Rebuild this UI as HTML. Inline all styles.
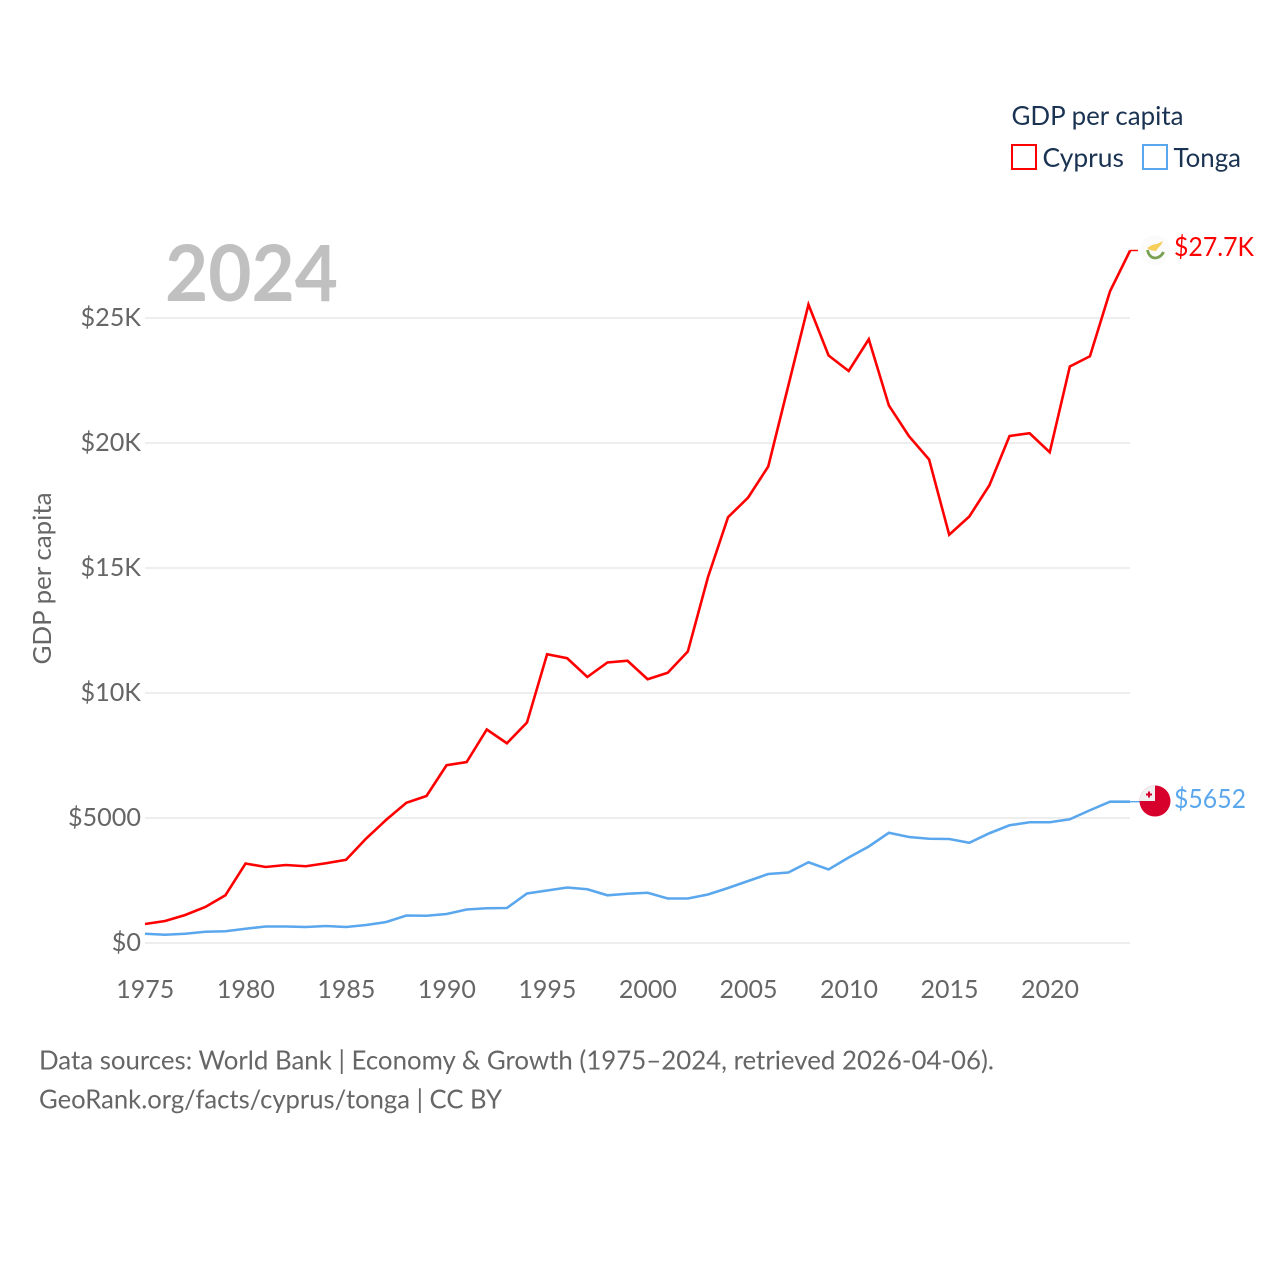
<!DOCTYPE html>
<html>
<head>
<meta charset="utf-8">
<title>GDP per capita: Cyprus and Tonga</title>
<style>
html,body{margin:0;padding:0;background:#fff;}
svg{display:block;font-family:"Lato","Carlito","Liberation Sans",sans-serif;}
</style>
</head>
<body>
<svg id="chart" xmlns="http://www.w3.org/2000/svg" width="1280" height="1280" viewBox="0 0 1280 1280">
  <rect x="0" y="0" width="1280" height="1280" fill="#fff"/>
  <g id="grid"></g>
  <g id="yticks"></g>
  <g id="xticks"></g>
  <text x="165" y="301" font-size="78" font-weight="700" fill="#c0c0c0" textLength="173" lengthAdjust="spacingAndGlyphs">2024</text>
  <text transform="translate(51,664.5) rotate(-90)" font-size="25.5" fill="#666" textLength="172" lengthAdjust="spacingAndGlyphs">GDP per capita</text>
  <g id="series"></g>

  <g>
    <text x="1011.5" y="125" font-size="26.5" fill="#1a3352" textLength="172" lengthAdjust="spacingAndGlyphs">GDP per capita</text>
    <g>
      <rect x="1012" y="145" width="24" height="24" fill="none" stroke="#ff0000" stroke-width="2"/>
      <text x="1042.5" y="167" font-size="26.5" fill="#1a3352" textLength="81.5" lengthAdjust="spacingAndGlyphs">Cyprus</text>
    </g>
    <g>
      <rect x="1143" y="145" width="24" height="24" fill="none" stroke="#5ba7ee" stroke-width="2"/>
      <text x="1173.5" y="167" font-size="26.5" fill="#1a3352" textLength="67.5" lengthAdjust="spacingAndGlyphs">Tonga</text>
    </g>
  </g>

  <g>
    <circle cx="1155" cy="250" r="15" fill="#fbfbfb"/>
    <path d="M1147 248 L1152 245 L1158 243.5 L1163 241 L1161 245 L1158 248 L1156 251 L1152 250.5 L1149 249.5 Z" fill="#f6cf5a"/>
    <path d="M1147.5 250 Q1149 257.5 1155 258 Q1161 257.5 1163.5 252" fill="none" stroke="#789f52" stroke-width="2.8"/>
  </g>
  <g>
    <clipPath id="tongaClip"><circle cx="1155" cy="801" r="15.5"/></clipPath>
    <circle cx="1155" cy="801" r="15.5" fill="#d7002c"/>
    <rect x="1139" y="785" width="16" height="16" fill="#f0f0f0" clip-path="url(#tongaClip)"/>
    <path d="M1148 791.5 h2 v2 h2 v2 h-2 v2 h-2 v-2 h-2 v-2 h2 z" fill="#d7002c"/>
  </g>

  <text x="1174" y="256" font-size="26.5" fill="#ff0000" textLength="80" lengthAdjust="spacingAndGlyphs">$27.7K</text>
  <text x="1174" y="808" font-size="26.5" fill="#5ba7ee" textLength="72" lengthAdjust="spacingAndGlyphs">$5652</text>

  <text x="39" y="1069.5" font-size="26" fill="#666" textLength="955" lengthAdjust="spacingAndGlyphs">Data sources: World Bank | Economy &amp; Growth (1975–2024, retrieved 2026-04-06).</text>
  <text x="39" y="1108.5" font-size="26" fill="#666" textLength="463" lengthAdjust="spacingAndGlyphs">GeoRank.org/facts/cyprus/tonga | CC BY</text>
</svg>
<script>
const years = [1975,1976,1977,1978,1979,1980,1981,1982,1983,1984,1985,1986,1987,1988,1989,1990,1991,1992,1993,1994,1995,1996,1997,1998,1999,2000,2001,2002,2003,2004,2005,2006,2007,2008,2009,2010,2011,2012,2013,2014,2015,2016,2017,2018,2019,2020,2021,2022,2023,2024];
const cyprusValues = [760,880,1120,1440,1910,3180,3040,3120,3070,3190,3330,4180,4930,5610,5880,7110,7240,8540,7990,8820,11550,11390,10640,11220,11290,10550,10810,11660,14630,17030,17820,19060,22300,25540,23500,22880,24150,21500,20270,19340,16330,17060,18310,20280,20390,19630,23060,23470,26070,27700];
const tongaValues = [370,330,370,450,470,570,660,660,640,680,640,720,840,1100,1090,1160,1340,1390,1400,1980,2100,2220,2150,1910,1970,2010,1780,1780,1940,2200,2480,2760,2820,3230,2940,3420,3860,4410,4240,4170,4160,4010,4390,4710,4830,4830,4950,5310,5652,5652];
const yTickValues = [0,5000,10000,15000,20000,25000];
const yTickLabels = ["$0","$5000","$10K","$15K","$20K","$25K"];
const xTickValues = [1975,1980,1985,1990,1995,2000,2005,2010,2015,2020];

const NS = "http://www.w3.org/2000/svg";
function xScale(year){ return 145 + (year - 1975) * 20.105; }
function yScale(value){ return 943 - value * 625 / 25000; }
function make(tag, attrs, parent){
  const el = document.createElementNS(NS, tag);
  for (const k in attrs) el.setAttribute(k, attrs[k]);
  parent.appendChild(el);
  return el;
}

const grid = document.getElementById("grid");
const yticks = document.getElementById("yticks");
yTickValues.forEach(function(v, i){
  const line = make("line", {x1:145, x2:1130, y1:yScale(v), y2:yScale(v), stroke:"#eeeeee", "stroke-width":2}, grid);
  
  
  const t = make("text", {x:141, y:yScale(v)+8, "text-anchor":"end", "font-size":25.2, fill:"#666"}, yticks);
  
  
  t.textContent = yTickLabels[i];
});

const xticks = document.getElementById("xticks");
xTickValues.forEach(function(y){
  const t = make("text", {x:xScale(y)+0.3, y:998, "text-anchor":"middle", "font-size":25, fill:"#666"}, xticks);
  
  
  t.textContent = y;
});

const series = document.getElementById("series");
function drawSeries(values, color, name, endX){
  const pts = values.map(function(v, i){ return xScale(years[i]).toFixed(2) + "," + yScale(v).toFixed(2); }).join(" ");
  const last = values[values.length - 1];
  const conn = make("line", {x1:xScale(years[years.length-1]), x2:endX, y1:yScale(last), y2:yScale(last), stroke:color, "stroke-width":1.4}, series);
  
  
  const pl = make("polyline", {points:pts, fill:"none", stroke:color, "stroke-width":2.6, "stroke-linejoin":"miter"}, series);
  
  
}
drawSeries(tongaValues, "#5ba7ee", "tonga", 1141);
drawSeries(cyprusValues, "#ff0000", "cyprus", 1138);
</script>
</body>
</html>
